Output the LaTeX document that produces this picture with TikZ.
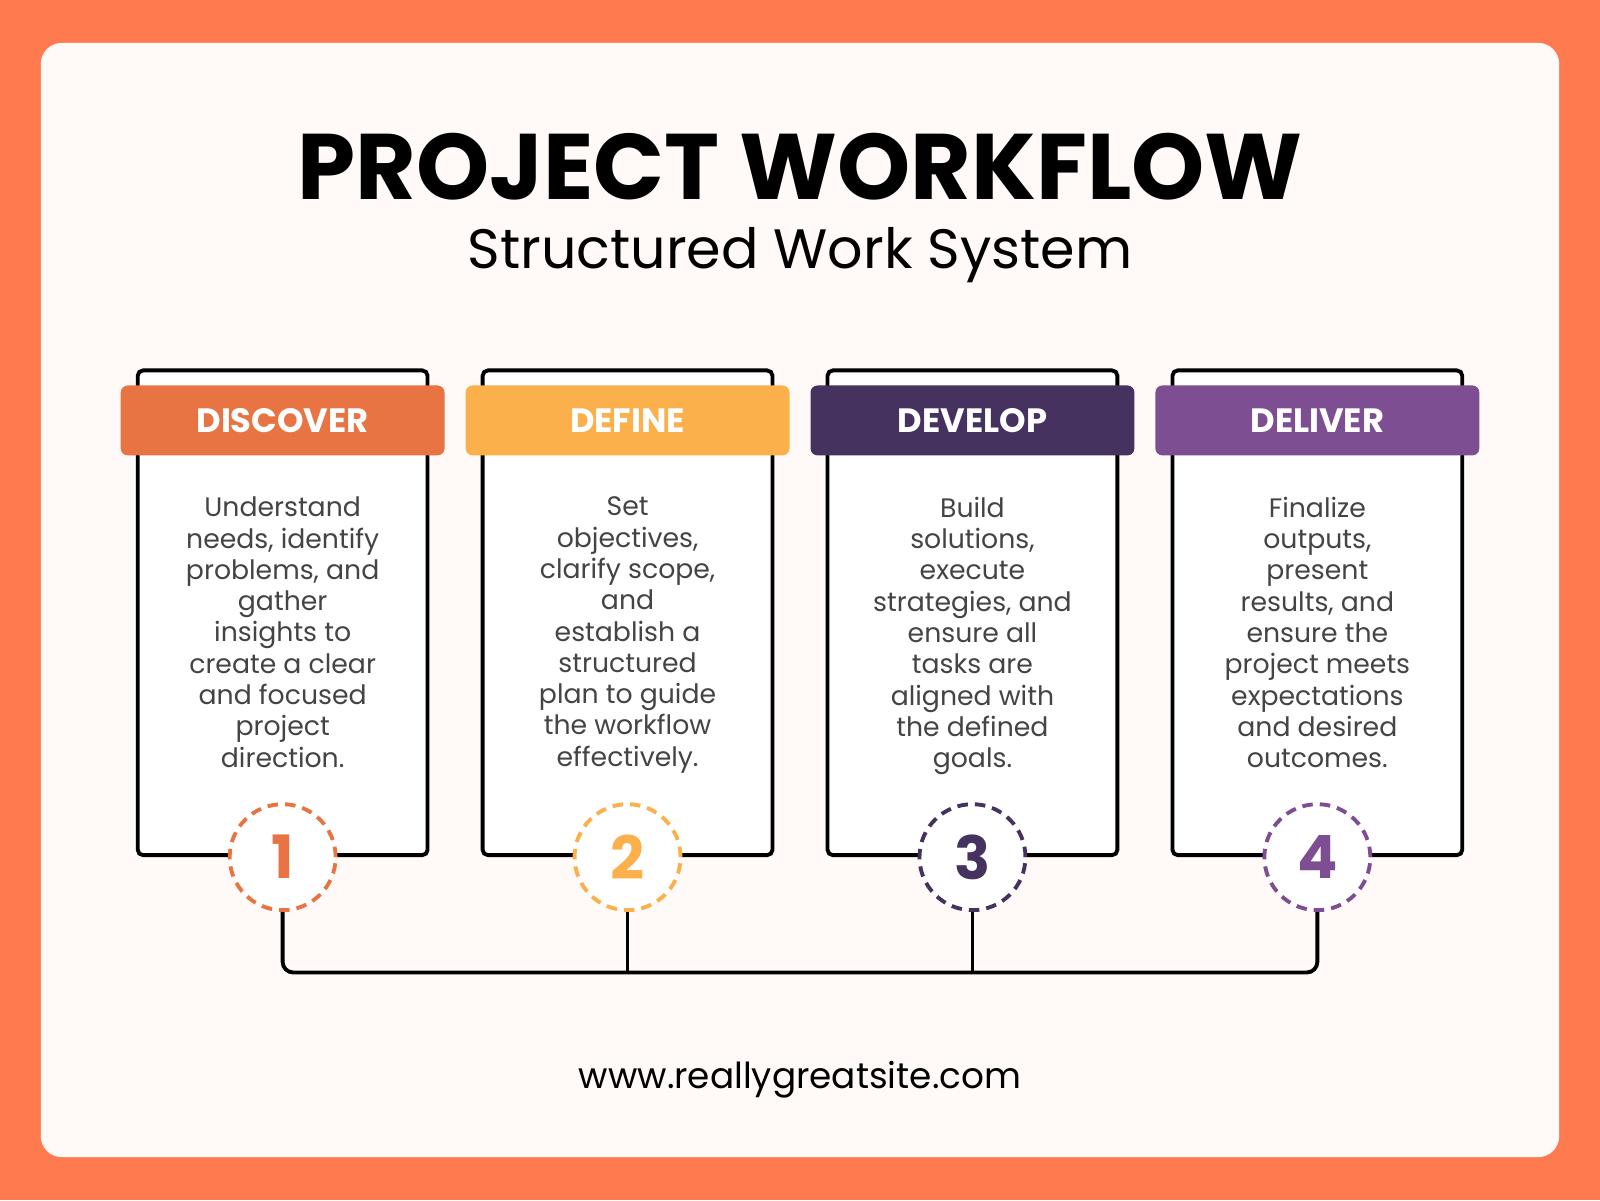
\documentclass[tikz,border=0pt]{standalone}
\usepackage{fontspec}
\setmainfont{Poppins}
\usetikzlibrary{positioning}
\definecolor{bgorange}{HTML}{FF7B4F}
\definecolor{cardwhite}{HTML}{FFFAF8}
\definecolor{cdiscover}{HTML}{E97443}
\definecolor{cdefine}{HTML}{FBB04C}
\definecolor{cdevelop}{HTML}{45325F}
\definecolor{cdeliver}{HTML}{7E4E93}
\definecolor{bodygray}{HTML}{444444}
\tikzset{
  stepbox/.style={draw=black,line width=1.1pt,fill=white,rounded corners=1.5pt},
  stephead/.style={rounded corners=2pt,minimum width=3.24cm,minimum height=0.70cm,text=white,font=\fontsize{9.6}{12}\selectfont\bfseries},
  steptext/.style={text=bodygray,align=center,font=\fontsize{7.6}{8.9}\selectfont},
  stepnum/.style={circle,draw,dashed,dash pattern=on 3pt off 2pt,line width=1.1pt,fill=white,minimum size=1.06cm,font=\fontsize{17}{18}\selectfont\bfseries},
  link/.style={line width=1.1pt,rounded corners=3pt}
}
\begin{document}
\begin{tikzpicture}[x=0.010204cm,y=-0.010204cm]
\useasboundingbox (0,0) rectangle (1568,1176);
\fill[bgorange] (0,0) rectangle (1568,1176);
\fill[cardwhite,rounded corners=6pt] (40,42) rectangle (1528,1134);

\node[font=\fontsize{26.5}{30}\selectfont\bfseries] (title) at (784,163) {PROJECT WORKFLOW};
\node[font=\fontsize{15.8}{18}\selectfont] (subtitle) at (784,250) {Structured Work System};

\foreach \i/\name/\col/\txt in {
  1/DISCOVER/cdiscover/{Understand\\needs, identify\\problems, and\\gather\\insights to\\create a clear\\and focused\\project\\direction.},
  2/DEFINE/cdefine/{Set\\objectives,\\clarify scope,\\and\\establish a\\structured\\plan to guide\\the workflow\\effectively.},
  3/DEVELOP/cdevelop/{Build\\solutions,\\execute\\strategies, and\\ensure all\\tasks are\\aligned with\\the defined\\goals.},
  4/DELIVER/cdeliver/{Finalize\\outputs,\\present\\results, and\\ensure the\\project meets\\expectations\\and desired\\outcomes.}}{
  \pgfmathsetmacro{\cx}{277+338*(\i-1)}
  \draw[stepbox] (\cx-142,363) rectangle (\cx+142,838);
  \node[stephead,fill=\col] (head\i) at (\cx,412) {\name};
  \node[steptext,anchor=north] (text\i) at (\cx,475) {\txt};
  \node[stepnum,draw=\col,text=\col] (num\i) at (\cx,840) {\i};
  \coordinate (low\i) at (\cx,953);
}
\draw[link] (num1) -- (low1) -- (low4) -- (num4);
\draw[link] (num2) -- (low2);
\draw[link] (num3) -- (low3);

\node[font=\fontsize{10.2}{12}\selectfont] (site) at (784,1058) {www.reallygreatsite.com};
\end{tikzpicture}
\end{document}
